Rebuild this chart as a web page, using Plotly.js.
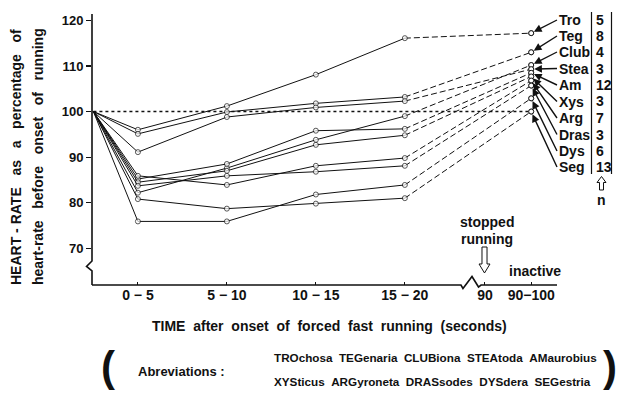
<!DOCTYPE html>
<html>
<head>
<meta charset="utf-8">
<script src="https://cdn.plot.ly/plotly-3.0.1.min.js"></script>
<style>
  html, body { margin: 0; padding: 0; background: #fff; }
  #chart { width: 618px; height: 397px; }
</style>
</head>
<body>
<div id="chart"></div>
<script>
// Time categories along the x axis (position units: 5 s per 5 units before the break)
const runPositions = [0, 2.5, 7.5, 12.5, 17.5];     // onset, 0-5, 5-10, 10-15, 15-20
const inactivePosition = 24.6;                       // 90-100 s
const tickPositions = [2.5, 7.5, 12.5, 17.5, 22, 24.6];
const tickLabels = ['0 \u2212 5', '5 \u2212 10', '10 \u2212 15', '15 \u2212 20', '90', '90\u2212100'];

// Genus abbreviations and number of animals (n)
const genera = ['Tro', 'Teg', 'Club', 'Stea', 'Am', 'Xys', 'Arg', 'Dras', 'Dys', 'Seg'];
const nAnimals = [5, 8, 4, 3, 12, 3, 7, 3, 6, 13];

// Heart-rate (% of pre-running rate) while running: onset, 0-5, 5-10, 10-15, 15-20 s
const troRun  = [100, 96.0, 101.2, 108.1, 116.1];
const tegRun  = [100, 95.1,  99.9, 101.8, 103.2];
const clubRun = [100, 82.2,  87.6,  93.8,  99.0];
const steaRun = [100, 91.1,  98.8, 100.9, 102.3];
const amRun   = [100, 85.2,  88.5,  95.8,  96.2];
const xysRun  = [100, 84.5,  87.0,  92.7,  94.8];
const argRun  = [100, 85.9,  83.9,  88.1,  89.8];
const drasRun = [100, 83.7,  85.9,  86.8,  88.1];
const dysRun  = [100, 75.9,  75.9,  81.8,  83.9];
const segRun  = [100, 80.8,  78.7,  79.8,  81.0];
const runSeries = [troRun, tegRun, clubRun, steaRun, amRun, xysRun, argRun, drasRun, dysRun, segRun];

// Heart-rate after stopping (inactive, 90-100 s), same genus order
const inactiveValues = [117.2, 113.0, 110.2, 109.3, 108.5, 107.7, 106.8, 105.7, 102.9, 100.0];

// Label rows on the right (pixel y of each genus label)
const labelRowsPx = [20, 36, 52, 68.5, 85, 101.5, 118, 134.5, 151, 167];

// ---- plot geometry ----
const W = 618, H = 397;
const M = { l: 92, r: 61, t: 14, b: 112 };
const plotW = W - M.l - M.r, plotH = H - M.t - M.b;
const xRange = [-0.08, 26.05];
const yRange = [61.95, 121.4];

const px = p => (p - M.l) / plotW;                 // pixel -> paper x
const py = p => 1 - (p - M.t) / plotH;             // pixel -> paper y
const yData = p => yRange[1] - (p - M.t) / plotH * (yRange[1] - yRange[0]);
const xData = p => xRange[0] + (p - M.l) / plotW * (xRange[1] - xRange[0]);

const FONT = 'Liberation Sans, Arial, sans-serif';
const INK = '#111';

const traces = [];
// dashed segments from 15-20 s to the inactive reading
runSeries.forEach((vals, i) => {
  traces.push({
    x: [runPositions[runPositions.length - 1], inactivePosition],
    y: [vals[vals.length - 1], inactiveValues[i]],
    mode: 'lines+markers',
    line: { color: INK, width: 1, dash: '6px,3px' },
    marker: { size: [0, 5], color: '#fff', line: { color: INK, width: 1 } },
    hoverinfo: 'skip', showlegend: false, cliponaxis: false
  });
});
// solid segments while running
runSeries.forEach((vals, i) => {
  traces.push({
    x: runPositions, y: vals, name: genera[i],
    mode: 'lines+markers',
    line: { color: INK, width: 1 },
    marker: { size: vals.map((v, k) => k === 0 ? 0 : 5), color: '#fff', line: { color: INK, width: 1 } },
    showlegend: false, cliponaxis: false
  });
});
// redraw the inactive markers on top
traces.push({
  x: inactiveValues.map(() => inactivePosition), y: inactiveValues,
  mode: 'markers',
  marker: { size: 5, color: '#fff', line: { color: INK, width: 1 } },
  hoverinfo: 'skip', showlegend: false, cliponaxis: false
});

const shapes = [];
// 100 % reference line
shapes.push({ type: 'line', xref: 'x', yref: 'y', x0: 0, x1: inactivePosition, y0: 100, y1: 100,
  line: { color: INK, width: 1.5, dash: 'dot' }, layer: 'below' });

// axes drawn with their breaks
const path = pts => 'M' + pts.map(p => px(p[0]).toFixed(4) + ',' + py(p[1]).toFixed(4)).join(' L');
shapes.push({ type: 'path', xref: 'paper', yref: 'paper',
  path: path([[92, 14], [92, 261], [86.5, 266.5], [92, 271], [92, 285]]),
  line: { color: INK, width: 1.6 } });
shapes.push({ type: 'path', xref: 'paper', yref: 'paper',
  path: path([[92, 285], [461, 285], [463, 288.5], [472, 276.5], [478.5, 287], [481, 285], [557, 285]]),
  line: { color: INK, width: 1.6 } });

// n column bars
[591.5, 611.5].forEach(xp => shapes.push({ type: 'line', xref: 'paper', yref: 'paper',
  x0: px(xp), x1: px(xp), y0: py(12), y1: py(174), line: { color: INK, width: 1.2 } }));

// hollow arrow marking the stop of running
shapes.push({ type: 'path', xref: 'paper', yref: 'paper',
  path: path([[482, 247], [482, 264], [479, 264], [484.5, 273], [490, 264], [487, 264], [487, 247]]) + ' Z',
  line: { color: INK, width: 1 }, fillcolor: '#fff' });
// hollow arrow pointing to n
shapes.push({ type: 'path', xref: 'paper', yref: 'paper',
  path: path([[599.5, 190], [599.5, 182.5], [597, 182.5], [601.5, 176.5], [606, 182.5], [603.5, 182.5], [603.5, 190]]) + ' Z',
  line: { color: INK, width: 1 }, fillcolor: '#fff' });

const annotations = [];
const txt = (text, xp, yp, opts = {}) => annotations.push(Object.assign({
  text, xref: 'paper', yref: 'paper', x: px(xp), y: py(yp), showarrow: false,
  xanchor: 'center', yanchor: 'middle',
  font: { family: FONT, size: 14, color: INK, weight: 'bold' }
}, opts));

// genus labels with arrows to their inactive readings
genera.forEach((g, i) => {
  annotations.push({
    text: g, xref: 'x', yref: 'y', x: inactivePosition, y: inactiveValues[i],
    axref: 'x', ayref: 'y', ax: xData(557), ay: yData(labelRowsPx[i]),
    xanchor: 'left', yanchor: 'middle',
    showarrow: true, arrowhead: 2, arrowsize: 1.1, arrowwidth: 1.4, arrowcolor: INK, standoff: 3,
    font: { family: FONT, size: 14, color: INK, weight: 'bold' }
  });
  txt(String(nAnimals[i]), 594, labelRowsPx[i], { xanchor: 'left' });
});
txt('n', 601.5, 200);

// y axis title (two lines)
const sp = '\u00a0\u00a0';
const sp3 = '\u00a0\u00a0\u00a0';
txt('HEART\u00a0-\u00a0RATE' + sp3 + 'as' + sp3 + 'a' + sp3 + 'percentage' + sp3 + 'of', 16, 157, { textangle: -90 });
txt('heart-rate' + sp3 + 'before' + sp3 + 'onset' + sp3 + 'of' + sp3 + 'running', 38, 157, { textangle: -90 });

// x axis title
txt('TIME' + sp + 'after' + sp + 'onset' + sp + 'of' + sp + 'forced' + sp + 'fast' + sp + 'running' + sp + '(seconds)', 329, 326);

// stop / inactive notes
txt('stopped', 487, 222);
txt('running', 487, 239);
txt('inactive', 535, 271);

// abbreviations key
const keyFont = { family: FONT, size: 11.7, color: INK, weight: 'bold' };
txt('(', 108, 366, { font: { family: FONT, size: 42, color: INK, weight: 'bold' } });
txt(')', 610, 366, { font: { family: FONT, size: 42, color: INK, weight: 'bold' } });
txt('Abreviations :', 181, 371, { font: { family: FONT, size: 13, color: INK, weight: 'bold' } });
txt('TROchosa' + sp + 'TEGenaria' + sp + 'CLUBiona' + sp + 'STEAtoda' + sp + 'AMaurobius', 272, 357,
  { xanchor: 'left', font: keyFont });
txt('XYSticus' + sp + 'ARGyroneta' + sp + 'DRASsodes' + sp + 'DYSdera' + sp + 'SEGestria', 272, 381,
  { xanchor: 'left', font: keyFont });

const layout = {
  width: W, height: H, margin: M,
  paper_bgcolor: '#fff', plot_bgcolor: '#fff',
  showlegend: false,
  xaxis: {
    range: xRange, showline: false, showgrid: false, zeroline: false,
    tickmode: 'array', tickvals: tickPositions, ticktext: tickLabels,
    ticks: 'inside', ticklen: 3, tickwidth: 1, tickcolor: INK,
    tickfont: { family: FONT, size: 14, color: INK, weight: 'bold' }
  },
  yaxis: {
    range: yRange, showline: false, showgrid: false, zeroline: false,
    tickmode: 'array', tickvals: [70, 80, 90, 100, 110, 120],
    ticks: 'outside', ticklen: 5, tickwidth: 1.2, tickcolor: INK,
    tickfont: { family: FONT, size: 13, color: INK, weight: 'bold' }
  },
  shapes, annotations
};

Plotly.newPlot('chart', traces, layout, { staticPlot: true, displayModeBar: false });
</script>
</body>
</html>
